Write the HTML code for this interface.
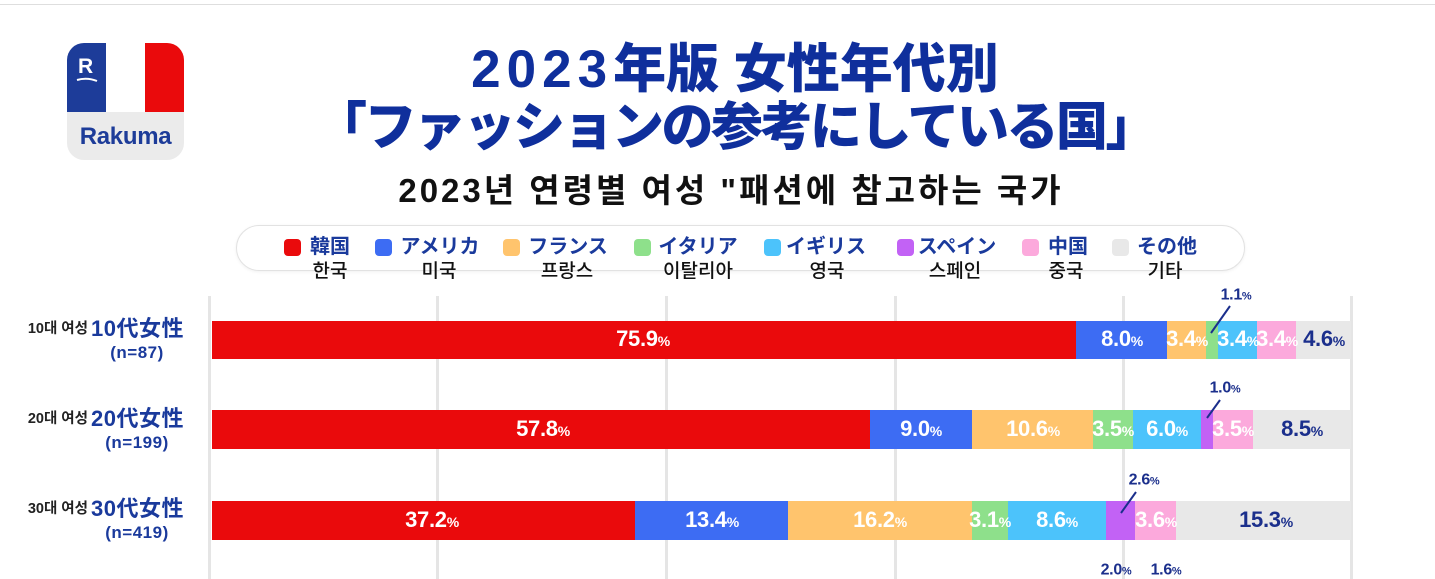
<!DOCTYPE html>
<html><head><meta charset="utf-8">
<style>
*{margin:0;padding:0;box-sizing:border-box}
html,body{width:1435px;height:579px;overflow:hidden;background:#fff}
body{position:relative;font-family:"Liberation Sans","Noto Sans CJK JP",sans-serif}
.a{position:absolute}
.topline{left:0;top:4px;width:1435px;height:1px;background:#dedede}
.logo{left:67px;top:43px;width:117px;height:117px;border-radius:17px;overflow:hidden;background:#ebebeb}
.logo .b{left:0;top:0;width:39px;height:69px;background:#1d3c99}
.logo .w{left:39px;top:0;width:39px;height:69px;background:#fff}
.logo .r{left:78px;top:0;width:39px;height:69px;background:#ea0a0c}
.logo .R{left:11px;top:13px;font:bold 21px/21px "Liberation Sans",sans-serif;color:#fff}
.logo .nm{left:0;top:81px;width:117px;text-align:center;font:bold 24px/26px "Liberation Sans",sans-serif;color:#1d3c99;letter-spacing:-0.3px}
.t{left:235px;width:1000px;text-align:center;color:#0f2f9c;font-weight:900;white-space:nowrap}
.t1{top:41px;font-size:53px;line-height:58px}
.t1 .n{letter-spacing:6px}
.t2{top:99px;font-size:52px;line-height:58px;letter-spacing:-2.5px}
.t3{left:231px;width:1000px;text-align:center;top:172px;font:bold 33px/38px "Liberation Sans","Noto Sans CJK KR",sans-serif;color:#111;letter-spacing:3px;white-space:nowrap}
.legend{left:236px;top:225px;width:1009px;height:46px;border:1.5px solid #e2e2e2;border-radius:23px;box-shadow:0 1px 3px rgba(0,0,0,0.06)}
.sq{width:17px;height:17px;border-radius:4px;top:239px}
.lj{top:235px;font:bold 20px/24px "Liberation Sans","Noto Sans CJK JP",sans-serif;color:#1a3a9c;white-space:nowrap;transform:translateX(-50%)}
.lk{top:260px;font:500 19px/24px "Liberation Sans","Noto Sans CJK KR",sans-serif;color:#111;white-space:nowrap;transform:translateX(-50%)}
.g{top:296px;width:3px;height:283px;background:#e5e5e5}
.s{height:38px}
.v{transform:translate(-50%,-50%);white-space:nowrap;font-weight:bold;font-size:22px;line-height:26px;color:#fff;letter-spacing:-0.3px}
.v small{font-size:14px}
.d{color:#1b2f8c}
.c{transform:translate(-50%,-50%);white-space:nowrap;font-weight:bold;font-size:16px;line-height:20px;color:#1b2f8c;letter-spacing:-0.3px}
.c small{font-size:11px}
.kl{font:bold 14.5px/18px "Liberation Sans","Noto Sans CJK KR",sans-serif;color:#222;text-align:right;width:82px;left:6px;white-space:nowrap}
.jl{left:91px;width:92px;text-align:center;font:bold 22px/26px "Liberation Sans","Noto Sans CJK JP",sans-serif;color:#1a3a9c;white-space:nowrap;letter-spacing:0.5px}
.nl{left:91px;width:92px;text-align:center;font:bold 17px/20px "Liberation Sans",sans-serif;color:#1a3a9c;white-space:nowrap;letter-spacing:0.5px}
</style></head><body>
<div class="a topline"></div>

<div class="a logo">
  <div class="a b"></div><div class="a w"></div><div class="a r"></div>
  <div class="a R">R</div>
  <svg class="a" style="left:0;top:0" width="39" height="69"><path d="M10 37 Q20 34 30 38" stroke="#fff" stroke-width="2" fill="none"/></svg>
  <div class="a nm">Rakuma</div>
</div>

<div class="a t t1"><span class="n">2023</span>年版 女性年代別</div>
<div class="a t t2">「ファッションの参考にしている国」</div>
<div class="a t3">2023년 연령별 여성 "패션에 참고하는 국가</div>

<div class="a legend"></div>
<div class="a sq" style="left:284px;background:#ea0a0c"></div>
<div class="a lj" style="left:330px">韓国</div><div class="a lk" style="left:330px">한국</div>
<div class="a sq" style="left:375px;background:#3d6cf3"></div>
<div class="a lj" style="left:440px">アメリカ</div><div class="a lk" style="left:439px">미국</div>
<div class="a sq" style="left:503px;background:#ffc46d"></div>
<div class="a lj" style="left:568px">フランス</div><div class="a lk" style="left:567px">프랑스</div>
<div class="a sq" style="left:634px;background:#8ee08b"></div>
<div class="a lj" style="left:698px">イタリア</div><div class="a lk" style="left:698px">이탈리아</div>
<div class="a sq" style="left:764px;background:#4cc3fb"></div>
<div class="a lj" style="left:826px">イギリス</div><div class="a lk" style="left:827px">영국</div>
<div class="a sq" style="left:897px;background:#c262f5"></div>
<div class="a lj" style="left:957px">スペイン</div><div class="a lk" style="left:955px">스페인</div>
<div class="a sq" style="left:1022px;background:#fca9dc"></div>
<div class="a lj" style="left:1068px">中国</div><div class="a lk" style="left:1066px">중국</div>
<div class="a sq" style="left:1112px;background:#e8e8e8"></div>
<div class="a lj" style="left:1167px">その他</div><div class="a lk" style="left:1165px">기타</div>

<div class="a g" style="left:208px"></div>
<div class="a g" style="left:436px"></div>
<div class="a g" style="left:665px"></div>
<div class="a g" style="left:894px"></div>
<div class="a g" style="left:1122px"></div>
<div class="a g" style="left:1350px"></div>

<!-- Row 1 -->
<div class="a kl" style="top:320px">10대 여성</div>
<div class="a jl" style="top:316px">10代女性</div>
<div class="a nl" style="top:343px">(n=87)</div>
<div class="a s" style="top:321px;left:212px;width:865px;background:#ea0a0c"></div>
<div class="a s" style="top:321px;left:1076px;width:92px;background:#3d6cf3"></div>
<div class="a s" style="top:321px;left:1167px;width:40px;background:#ffc46d"></div>
<div class="a s" style="top:321px;left:1206px;width:13px;background:#8ee08b"></div>
<div class="a s" style="top:321px;left:1218px;width:40px;background:#4cc3fb"></div>
<div class="a s" style="top:321px;left:1257px;width:40px;background:#fca9dc"></div>
<div class="a s" style="top:321px;left:1296px;width:55px;background:#e8e8e8"></div>
<div class="a v" style="top:340px;left:643px">75.9<small>%</small></div>
<div class="a v" style="top:340px;left:1122px">8.0<small>%</small></div>
<div class="a v" style="top:340px;left:1187px">3.4<small>%</small></div>
<div class="a v" style="top:340px;left:1238px">3.4<small>%</small></div>
<div class="a v" style="top:340px;left:1277px">3.4<small>%</small></div>
<div class="a v d" style="top:340px;left:1324px">4.6<small>%</small></div>
<div class="a c" style="top:296px;left:1236px">1.1<small>%</small></div>

<!-- Row 2 -->
<div class="a kl" style="top:410px">20대 여성</div>
<div class="a jl" style="top:406px">20代女性</div>
<div class="a nl" style="top:433px">(n=199)</div>
<div class="a s" style="top:410px;height:39px;left:212px;width:659px;background:#ea0a0c"></div>
<div class="a s" style="top:410px;height:39px;left:870px;width:103px;background:#3d6cf3"></div>
<div class="a s" style="top:410px;height:39px;left:972px;width:122px;background:#ffc46d"></div>
<div class="a s" style="top:410px;height:39px;left:1093px;width:41px;background:#8ee08b"></div>
<div class="a s" style="top:410px;height:39px;left:1133px;width:69px;background:#4cc3fb"></div>
<div class="a s" style="top:410px;height:39px;left:1201px;width:12px;background:#c262f5"></div>
<div class="a s" style="top:410px;height:39px;left:1213px;width:41px;background:#fca9dc"></div>
<div class="a s" style="top:410px;height:39px;left:1253px;width:98px;background:#e8e8e8"></div>
<div class="a v" style="top:430px;left:543px">57.8<small>%</small></div>
<div class="a v" style="top:430px;left:921px">9.0<small>%</small></div>
<div class="a v" style="top:430px;left:1033px">10.6<small>%</small></div>
<div class="a v" style="top:430px;left:1113px">3.5<small>%</small></div>
<div class="a v" style="top:430px;left:1167px">6.0<small>%</small></div>
<div class="a v" style="top:430px;left:1233px">3.5<small>%</small></div>
<div class="a v d" style="top:430px;left:1302px">8.5<small>%</small></div>
<div class="a c" style="top:389px;left:1225px">1.0<small>%</small></div>

<!-- Row 3 -->
<div class="a kl" style="top:500px">30대 여성</div>
<div class="a jl" style="top:496px">30代女性</div>
<div class="a nl" style="top:523px">(n=419)</div>
<div class="a s" style="top:501px;height:39px;left:212px;width:424px;background:#ea0a0c"></div>
<div class="a s" style="top:501px;height:39px;left:635px;width:154px;background:#3d6cf3"></div>
<div class="a s" style="top:501px;height:39px;left:788px;width:185px;background:#ffc46d"></div>
<div class="a s" style="top:501px;height:39px;left:972px;width:37px;background:#8ee08b"></div>
<div class="a s" style="top:501px;height:39px;left:1008px;width:99px;background:#4cc3fb"></div>
<div class="a s" style="top:501px;height:39px;left:1106px;width:30px;background:#c262f5"></div>
<div class="a s" style="top:501px;height:39px;left:1135px;width:42px;background:#fca9dc"></div>
<div class="a s" style="top:501px;height:39px;left:1176px;width:175px;background:#e8e8e8"></div>
<div class="a v" style="top:521px;left:432px">37.2<small>%</small></div>
<div class="a v" style="top:521px;left:712px">13.4<small>%</small></div>
<div class="a v" style="top:521px;left:880px">16.2<small>%</small></div>
<div class="a v" style="top:521px;left:990px">3.1<small>%</small></div>
<div class="a v" style="top:521px;left:1057px">8.6<small>%</small></div>
<div class="a v" style="top:521px;left:1156px">3.6<small>%</small></div>
<div class="a v d" style="top:521px;left:1266px">15.3<small>%</small></div>
<div class="a c" style="top:481px;left:1144px">2.6<small>%</small></div>

<div class="a c" style="top:571px;left:1116px">2.0<small>%</small></div>
<div class="a c" style="top:571px;left:1166px">1.6<small>%</small></div>

<svg class="a" style="left:0;top:0" width="1435" height="579">
  <line x1="1230" y1="306" x2="1211" y2="333" stroke="#1b2f8c" stroke-width="2"/>
  <line x1="1220" y1="400" x2="1207" y2="418" stroke="#1b2f8c" stroke-width="2"/>
  <line x1="1136" y1="492" x2="1121" y2="513" stroke="#1b2f8c" stroke-width="2"/>
</svg>
</body></html>
